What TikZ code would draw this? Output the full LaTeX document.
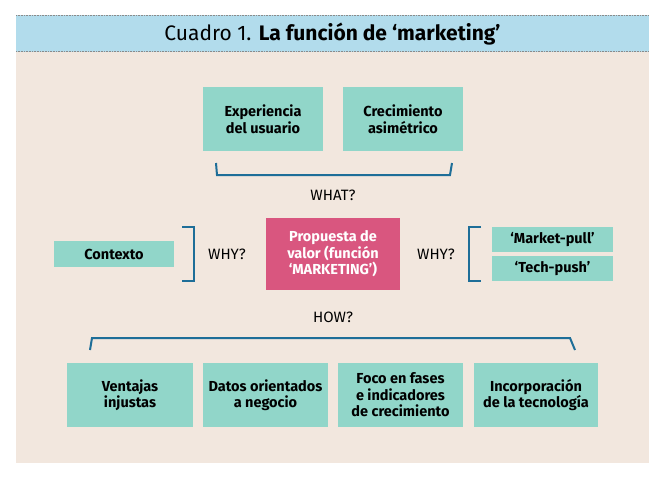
\documentclass[tikz,border=0pt]{standalone}
\usepackage{fontspec}
\setmainfont{Fira Sans}
\usetikzlibrary{calc}
\definecolor{teal1}{HTML}{91D6C9}
\definecolor{pink1}{HTML}{D9567F}
\definecolor{beige1}{HTML}{F2E7DE}
\definecolor{blue1}{HTML}{B2DCEC}
\definecolor{brk}{HTML}{1E6E98}
\definecolor{dotg}{HTML}{8A8A8A}
\tikzset{
  box/.style={fill=teal1, draw=none, align=center, inner sep=0pt,
    font=\fontsize{14.5}{16.5}\selectfont\bfseries, text=black},
  pbox/.style={fill=pink1, draw=none, align=center, inner sep=0pt,
    font=\fontsize{14.5}{16.5}\selectfont\bfseries, text=white},
  lbl/.style={font=\fontsize{15}{17}\selectfont, text=black, inner sep=0pt},
  brack/.style={draw=brk, line width=2pt},
}
\begin{document}
\begin{tikzpicture}[x=1pt,y=-1pt]
\useasboundingbox (0,0) rectangle (665,482);
\fill[white] (0,0) rectangle (665,482);
% panel
\fill[beige1] (16,52) rectangle (649,463);
\fill[blue1] (16,15) rectangle (649,52);
\draw[dotg, line width=1.2pt, dash pattern=on 0.8pt off 0.8pt] (16,15.5) -- (649,15.5);
\draw[dotg, line width=1.2pt, dash pattern=on 0.8pt off 0.8pt] (16,51.5) -- (649,51.5);
\node[inner sep=0pt, font=\fontsize{21}{24}\selectfont] (title) at (332.5,34)
  {Cuadro 1. \textbf{La función de ‘marketing’}};
% top boxes
\node[box, minimum width=120pt, minimum height=64pt] (exp) at (263,119) {Experiencia\\del usuario};
\node[box, minimum width=120pt, minimum height=64pt] (cre) at (403,119) {Crecimiento\\asimétrico};
\coordinate (w1) at (216,163);
\coordinate (w2) at (217,175);
\coordinate (w3) at (450,175);
\coordinate (w4) at (452,163);
\draw[brack] (w1) -- (w2) -- (w3) -- (w4);
\node[lbl] (what) at (333,195) {WHAT?};
% middle row
\node[box, minimum width=120pt, minimum height=26pt] (ctx) at (114,254) {Contexto};
\coordinate (l1) at (182,227);
\coordinate (l2) at (194,227);
\coordinate (l3) at (194,281);
\coordinate (l4) at (182,281);
\draw[brack] (l1) -- (l2) -- (l3) -- (l4);
\node[lbl] (why1) at (227,254) {WHY?};
\node[pbox, minimum width=134pt, minimum height=72pt] (prop) at (333,254) {Propuesta de\\valor (función\\‘MARKETING’)};
\node[lbl] (why2) at (436,254) {WHY?};
\coordinate (r1) at (481,227);
\coordinate (r2) at (469,227);
\coordinate (r3) at (469,281);
\coordinate (r4) at (481,281);
\draw[brack] (r1) -- (r2) -- (r3) -- (r4);
\node[box, minimum width=121pt, minimum height=25pt] (mp) at (552.5,239.5) {‘Market-pull’};
\node[box, minimum width=121pt, minimum height=25pt] (tp) at (552.5,268.5) {‘Tech-push’};
% HOW
\node[lbl] (how) at (333,317) {HOW?};
\coordinate (h1) at (90,350);
\coordinate (h2) at (92,338);
\coordinate (h3) at (570,338);
\coordinate (h4) at (575,350);
\draw[brack] (h1) -- (h2) -- (h3) -- (h4);
% bottom boxes
\node[box, minimum width=126pt, minimum height=64pt] (ven) at (130,395) {Ventajas\\injustas};
\node[box, minimum width=125pt, minimum height=64pt] (dat) at (265.5,395) {Datos orientados\\a negocio};
\node[box, minimum width=125pt, minimum height=64pt] (foc) at (400.5,395) {Foco en fases\\e indicadores\\de crecimiento};
\node[box, minimum width=124pt, minimum height=64pt] (inc) at (536,395) {Incorporación\\de la tecnología};
\end{tikzpicture}
\end{document}
